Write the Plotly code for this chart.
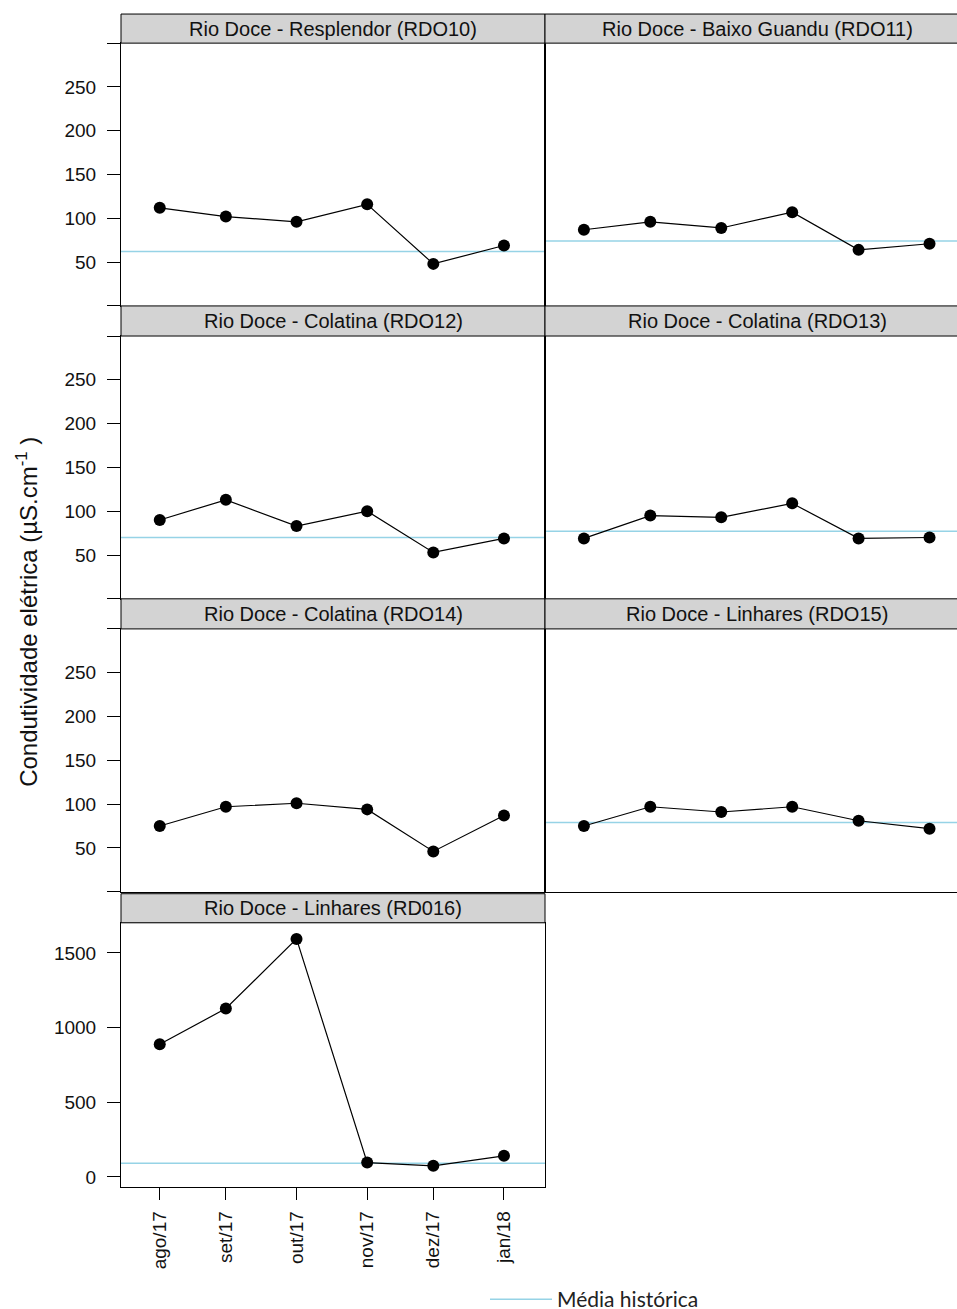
import plotly.graph_objects as go

# ---------------- data ----------------
sample_dates = ["2017-08-16", "2017-09-14", "2017-10-15", "2017-11-15", "2017-12-14", "2018-01-14"]
month_labels = ["ago/17", "set/17", "out/17", "nov/17", "dez/17", "jan/18"]

stations = [
    "Rio Doce - Resplendor (RDO10)",
    "Rio Doce - Baixo Guandu (RDO11)",
    "Rio Doce - Colatina (RDO12)",
    "Rio Doce - Colatina (RDO13)",
    "Rio Doce - Colatina (RDO14)",
    "Rio Doce - Linhares (RDO15)",
    "Rio Doce - Linhares (RD016)",
]

rdo10 = [112, 102, 96, 116, 48, 69]
rdo11 = [87, 96, 89, 107, 64, 71]
rdo12 = [90, 113, 83, 100, 53, 69]
rdo13 = [69, 95, 93, 109, 69, 70]
rdo14 = [75, 97, 101, 94, 46, 87]
rdo15 = [75, 97, 91, 97, 81, 72]
rdo16 = [888, 1128, 1594, 96, 74, 141]
series = [rdo10, rdo11, rdo12, rdo13, rdo14, rdo15, rdo16]

historical_mean = [62, 74, 70, 77, None, 79, 92]

y_ticks_small = [50, 100, 150, 200, 250]
y_ticks_small_edges = [0, 300]
y_ticks_big = [0, 500, 1000, 1500]

# ---------------- layout geometry (reference pixels) ----------------
W, H_REF = 957, 1309
FIG_H = 1320
col_px = [(121, 545), (545, 957)]
row_panel_px = [(43, 305), (335, 597), (627, 889), (920, 1183)]
row_strip_px = [(14, 43), (305, 335), (597, 627), (891, 920)]
x_range_left = ["2017-07-30", "2018-02-01"]
x_range_right = ["2017-07-30", "2018-01-26"]

def px_x(p):
    return p / W

def px_y(p):
    return 1 - p / H_REF

BLACK = "#000000"
MEAN_COLOR = "#96D3E6"
FONT = "Liberation Sans, Arial, sans-serif"
TXT = "#111111"

fig = go.Figure()
layout = dict(
    width=W, height=FIG_H,
    margin=dict(l=0, r=0, t=0, b=0),
    paper_bgcolor="white", plot_bgcolor="white",
    showlegend=True,
    font=dict(family=FONT, size=19, color=TXT),
)
shapes = []
annotations = []

for i, (name, vals) in enumerate(zip(stations, series)):
    row, col = divmod(i, 2)
    ax = i + 1
    xa = "xaxis" if ax == 1 else f"xaxis{ax}"
    ya = "yaxis" if ax == 1 else f"yaxis{ax}"
    xref = "x" if ax == 1 else f"x{ax}"
    yref = "y" if ax == 1 else f"y{ax}"

    fig.add_trace(go.Scatter(
        x=sample_dates, y=vals, mode="lines+markers",
        line=dict(color=BLACK, width=1.2),
        marker=dict(color=BLACK, size=12, symbol="circle"),
        xaxis=xref, yaxis=yref, showlegend=False, hoverinfo="x+y",
    ))

    c0, c1 = col_px[col]
    r0, r1 = row_panel_px[row]
    is_bottom = (row == 3)
    big = (i == 6)

    xax = dict(
        domain=[px_x(c0), min(1.0, px_x(c1))],
        anchor=yref,
        type="date",
        range=x_range_left if col == 0 else x_range_right,
        showgrid=False, zeroline=False,
        showline=True, linecolor=BLACK, linewidth=1, mirror=True,
        showticklabels=is_bottom,
    )
    if is_bottom:
        xax.update(
            tickvals=sample_dates, ticktext=month_labels,
            ticks="outside", ticklen=12, tickcolor=BLACK,
            tickangle=-90, ticklabelstandoff=4,
            tickfont=dict(size=19, family=FONT, color=TXT),
        )
    else:
        xax.update(ticks="", showticklabels=False)
    layout[xa] = xax

    yax = dict(
        domain=[px_y(r1), px_y(r0)],
        anchor=xref,
        range=[-65, 1702] if big else [0, 300],
        showgrid=False, zeroline=False,
        showline=True, linecolor=BLACK, linewidth=1,
        mirror=(col == 0),
    )
    if col == 0:
        yax.update(
            tickvals=y_ticks_big if big else y_ticks_small,
            ticks="outside", ticklen=13, tickcolor=BLACK,
            ticklabelstandoff=7,
            tickfont=dict(size=19, family=FONT, color=TXT),
        )
        if not big:
            yax["minor"] = dict(tickvals=y_ticks_small_edges, ticks="outside",
                                ticklen=13, tickcolor=BLACK, showgrid=False)
    else:
        yax.update(ticks="", showticklabels=False)
    layout[ya] = yax

    # strip
    s0, s1 = row_strip_px[row]
    shapes.append(dict(
        type="rect", xref="paper", yref="paper",
        x0=px_x(c0), x1=px_x(c1) + (0.01 if col == 1 else 0),
        y0=px_y(s1), y1=px_y(s0),
        fillcolor="#D3D3D3", line=dict(color=BLACK, width=1), layer="above",
    ))
    annotations.append(dict(
        text=name, xref="paper", yref="paper",
        x=(px_x(c0) + px_x(c1 if col == 0 else c1 + 12)) / 2,
        y=(px_y(s0) + px_y(s1)) / 2,
        xanchor="center", yanchor="middle", showarrow=False,
        font=dict(size=20, family=FONT, color=TXT),
    ))

    # historical mean line
    if historical_mean[i] is not None:
        shapes.append(dict(
            type="line", xref=f"{xref} domain", yref=yref,
            x0=0, x1=1, y0=historical_mean[i], y1=historical_mean[i],
            line=dict(color=MEAN_COLOR, width=1.5), layer="below",
        ))

# legend entry for the historical mean
fig.add_trace(go.Scatter(
    x=[None], y=[None], mode="lines", name="Média histórica",
    line=dict(color=MEAN_COLOR, width=1.5), xaxis="x7", yaxis="y7",
))
layout["legend"] = dict(
    x=px_x(485), y=px_y(1296), xanchor="left", yanchor="middle",
    orientation="h", bgcolor="rgba(0,0,0,0)",
    font=dict(size=21, family="Lato, Open Sans, sans-serif", color="#222222"),
    itemwidth=62,
)

# y-axis title
annotations.append(dict(
    text="Condutividade elétrica (µS.cm<sup>-1</sup> )",
    xref="paper", yref="paper", x=px_x(27), y=px_y(610),
    xanchor="center", yanchor="middle", textangle=-90, showarrow=False,
    font=dict(size=24, family=FONT, color=TXT),
))

layout["shapes"] = shapes
layout["annotations"] = annotations
fig.update_layout(**layout)

page_fix = (
    "document.documentElement.style.margin='0px';"
    "document.body.style.margin='0px';"
    "document.body.style.overflow='hidden';"
)
fig.write_html("out.html", post_script=page_fix, config={"displayModeBar": False})
